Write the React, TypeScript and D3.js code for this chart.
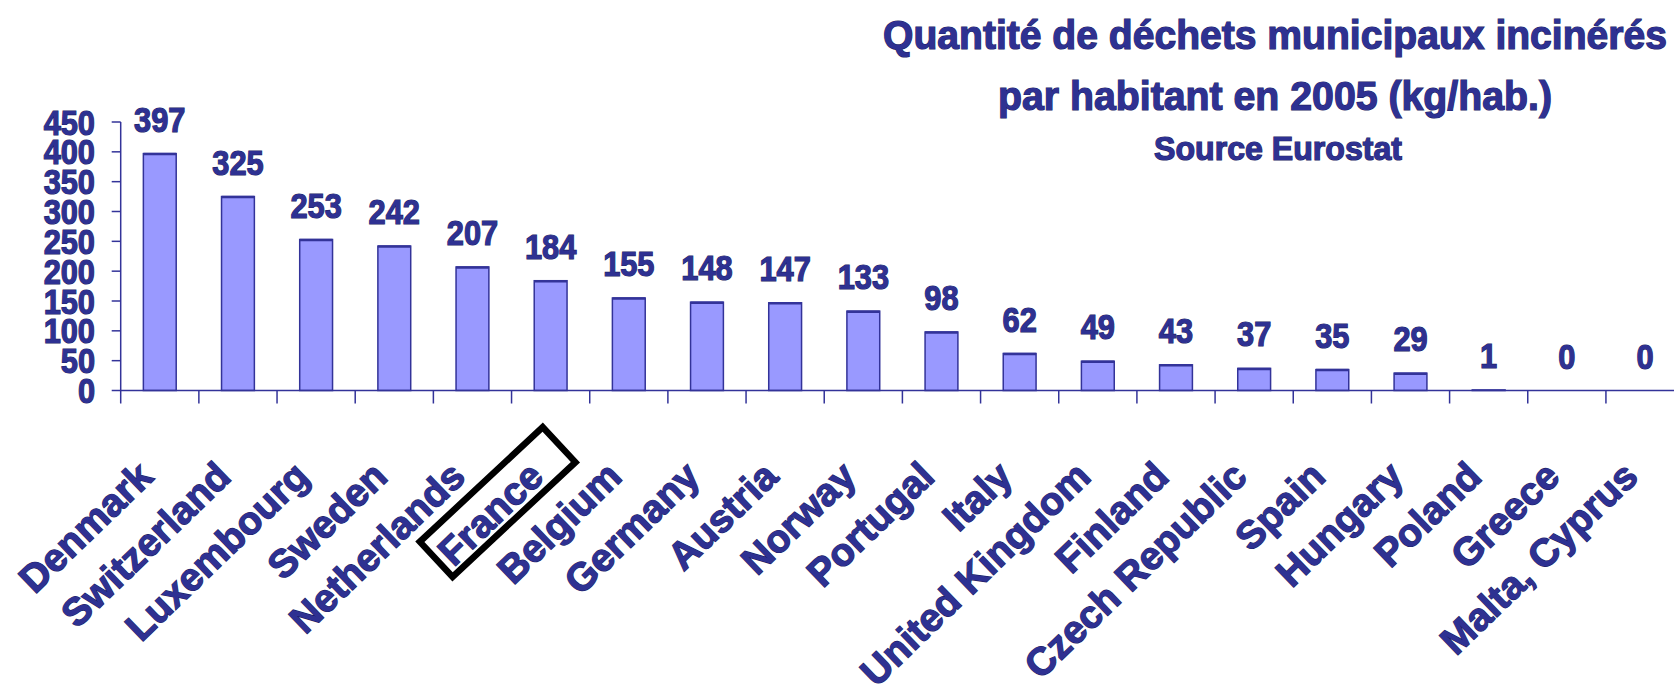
import React, { useEffect } from "react";
import * as d3 from "d3";

const categories = [
  "Denmark", "Switzerland", "Luxembourg", "Sweden", "Netherlands", "France",
  "Belgium", "Germany", "Austria", "Norway", "Portugal", "Italy",
  "United Kingdom", "Finland", "Czech Republic", "Spain", "Hungary",
  "Poland", "Greece", "Malta, Cyprus",
];
const values = [397, 325, 253, 242, 207, 184, 155, 148, 147, 133, 98, 62, 49, 43, 37, 35, 29, 1, 0, 0];
const yTicks = [0, 50, 100, 150, 200, 250, 300, 350, 400, 450];
const titleLines = [
  "Quantité de déchets municipaux incinérés",
  "par habitant en 2005 (kg/hab.)",
  "Source Eurostat",
];
const highlighted = "France";

const W = 1674;
const H = 695;
const TEXT = "#2E3192";
const OUTLINE = "#1E1F66";
const AXIS = "#333399";
const FILL = "#9999FF";
const FONT = "'Liberation Sans', Arial, Helvetica, sans-serif";

const textStyle: React.CSSProperties = { paintOrder: "stroke" } as React.CSSProperties;

export default function App() {
  useEffect(() => {
    document.body.style.margin = "0";
    document.body.style.overflow = "hidden";
  }, []);

  const x0 = 120.7;
  const step = 78.17;
  const x = d3.scaleBand<string>().domain(categories).range([x0, x0 + step * categories.length]).padding(0);
  const y = d3.scaleLinear().domain([0, 450]).range([390.5, 122]);
  const bw = x.bandwidth() * 0.42;
  const yBase = y(0);
  const xEnd = x0 + step * categories.length;
  const cxOf = (c: string) => (x(c) as number) + x.bandwidth() / 2;

  const hx = cxOf(highlighted);

  return (
    <svg width={W} height={H} style={{ position: "absolute", left: 0, top: 0, background: "#fff" }} fontFamily={FONT}>
      <rect x={0} y={0} width={W} height={H} fill="#fff" />
      {/* title */}
      <g fill={TEXT} stroke={OUTLINE} strokeWidth={1.2} fontWeight="bold" textAnchor="middle" style={textStyle}>
        <text x={1275} y={49} fontSize={40} textLength={784} lengthAdjust="spacingAndGlyphs">{titleLines[0]}</text>
        <text x={1275} y={110} fontSize={40} textLength={554} lengthAdjust="spacingAndGlyphs">{titleLines[1]}</text>
        <text x={1278} y={160} fontSize={33} textLength={248} lengthAdjust="spacingAndGlyphs">{titleLines[2]}</text>
      </g>

      {/* bars */}
      {categories.map((c, i) => {
        const cx = cxOf(c);
        const top = y(values[i]);
        if (values[i] <= 0) return null;
        return (
          <g key={c}>
            <rect x={cx - bw / 2} y={top} width={bw} height={yBase - top}
              fill={FILL} stroke={AXIS} strokeWidth={1.5} />
            {values[i] > 2 && (
              <line x1={cx - bw / 2} x2={cx + bw / 2} y1={top + 0.5} y2={top + 0.5} stroke={AXIS} strokeWidth={2.5} />
            )}
          </g>
        );
      })}

      {/* y axis */}
      <line x1={x0} x2={x0} y1={y(450)} y2={yBase + 13} stroke={AXIS} strokeWidth={1.5} />
      {yTicks.map((t) => (
        <g key={t}>
          <line x1={x0 - 9} x2={x0} y1={y(t)} y2={y(t)} stroke={AXIS} strokeWidth={1.5} />
          <text transform={`translate(95,${y(t)}) scale(0.88,1)`} dy="0.36em" textAnchor="end" fontSize={35}
            fontWeight="bold" fill={TEXT} stroke={OUTLINE} strokeWidth={1.2} style={textStyle}>{t}</text>
        </g>
      ))}

      {/* x axis */}
      <line x1={x0} x2={xEnd} y1={yBase} y2={yBase} stroke={AXIS} strokeWidth={1.5} />
      {categories.map((c) => {
        const bx = (x(c) as number) + x.bandwidth();
        return <line key={"t" + c} x1={bx} x2={bx} y1={yBase} y2={yBase + 13} stroke={AXIS} strokeWidth={1.5} />;
      })}

      {/* value labels */}
      {categories.map((c, i) => (
        <text key={"v" + c} transform={`translate(${cxOf(c)},${y(values[i]) - 22}) scale(0.88,1)`} textAnchor="middle"
          fontSize={35} fontWeight="bold" fill={TEXT} stroke={OUTLINE} strokeWidth={1.2} style={textStyle}>
          {values[i]}
        </text>
      ))}

      {/* category labels */}
      {categories.map((c) => (
        <text key={"c" + c} transform={`translate(${cxOf(c) - 5},479) rotate(-44)`} textAnchor="end"
          fontSize={39} fontWeight="bold" fill={TEXT} stroke={OUTLINE} strokeWidth={1.2} style={textStyle}>
          {c}
        </text>
      ))}

      {/* highlight box around France */}
      <rect x={-84} y={-24} width={168} height={48} fill="none" stroke="#000" strokeWidth={6.5}
        transform={`translate(${hx - 53},502) rotate(-43)`} />
    </svg>
  );
}
